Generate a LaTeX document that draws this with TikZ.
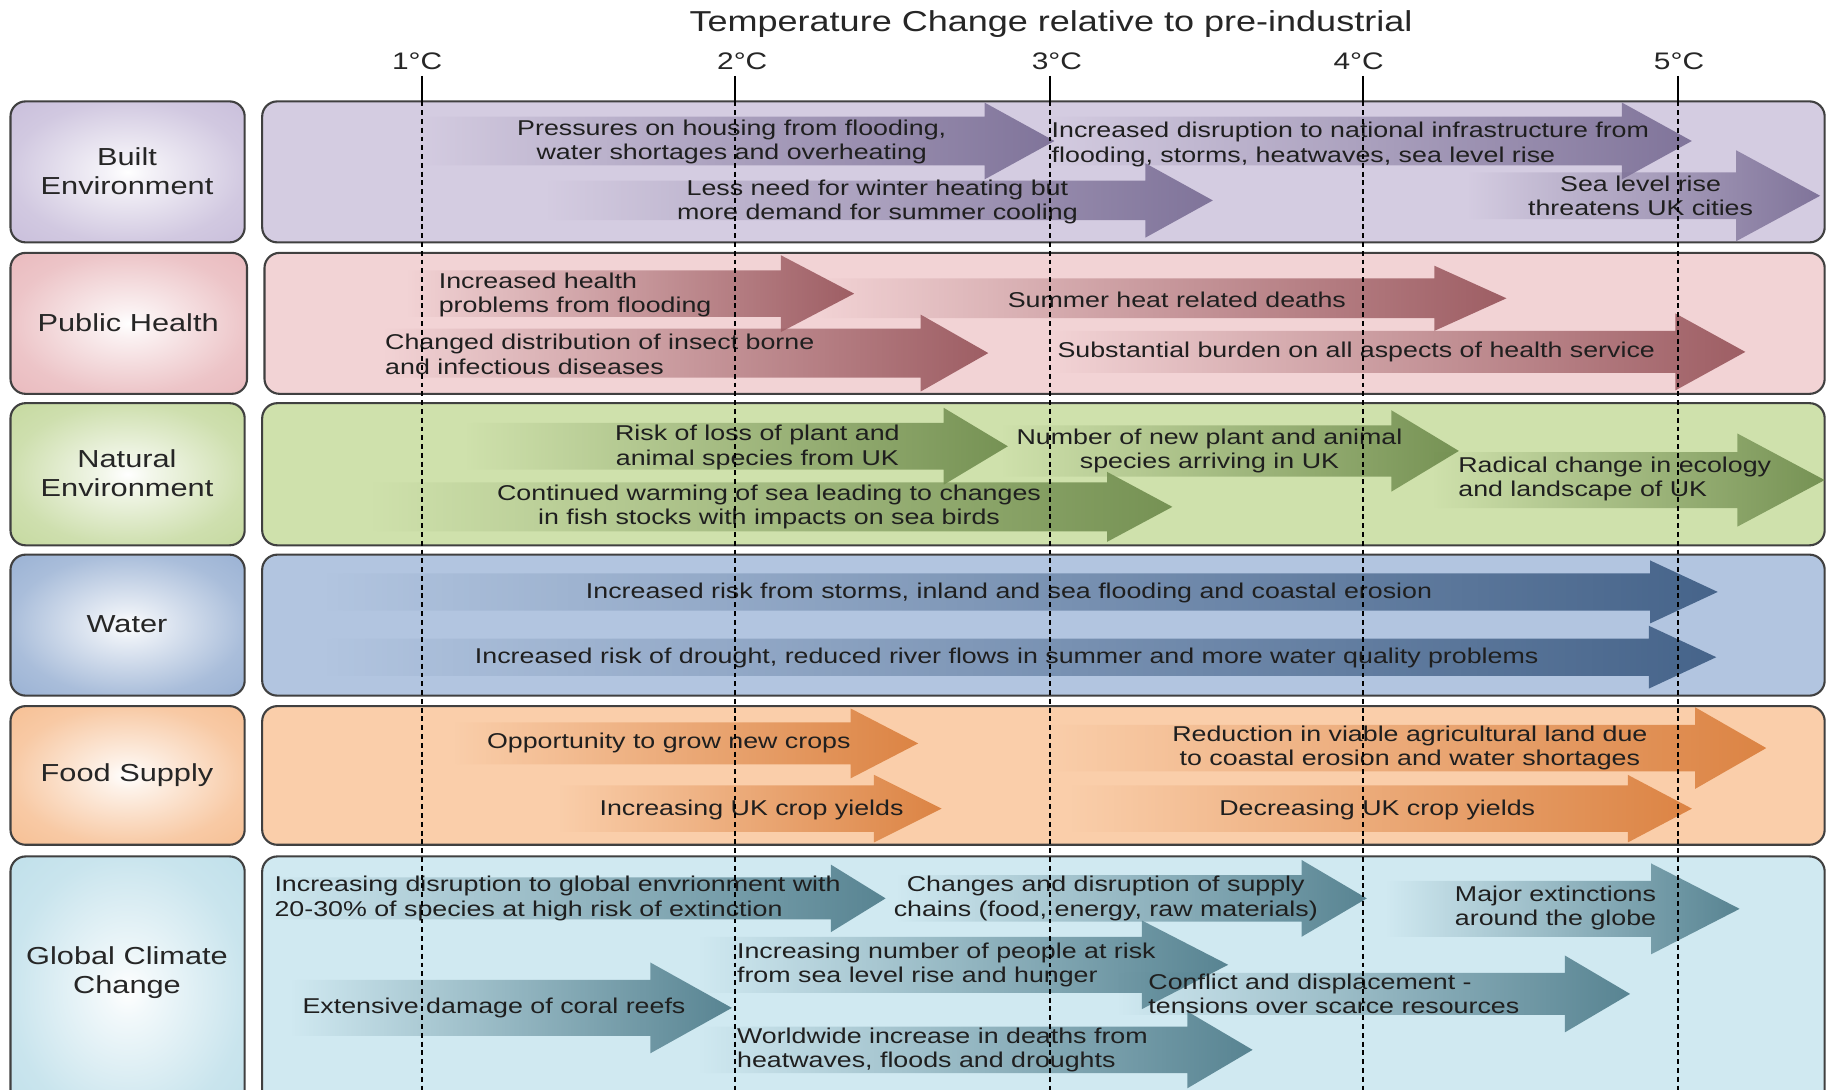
\documentclass[tikz,border=0pt]{standalone}
\usepackage{fontspec}
\setmainfont{Liberation Sans}[FakeStretch=1.25]
\usetikzlibrary{fadings}

% transparent on the left, opaque at the head
\tikzfading[name=fadein, left color=transparent!100, right color=transparent!0]

% soft white glow for the row labels
\colorlet{glowedge}{white}
\pgfdeclareradialshading[glowedge]{glow}{\pgfpoint{0bp}{0bp}}{color(0bp)=(white);
  color(5bp)=(glowedge!20!white); color(25bp)=(glowedge!80!white); color(40bp)=(glowedge); color(71bp)=(glowedge)}

% fat arrow: colour, x start, x head, x tip, y centre, body half height, head half height
\newcommand{\fatarrow}[7]{%
  \fill[#1, path fading=fadein] (#2,#5-#6) -- (#3,#5-#6) -- (#3,#5-#7) -- (#4,#5)
    -- (#3,#5+#7) -- (#3,#5+#6) -- (#2,#5+#6) -- cycle;}

\begin{document}
\begin{tikzpicture}[x=0.11652mm, y=-0.11652mm,
  rowbox/.style={draw=black!75, line width=0.6pt, rounded corners=4.3pt},
  labelbox/.style={rowbox, /utils/exec={\colorlet{glowedge}{#1}}, shade, shading=glow},
  rowlabel/.style={font=\fontsize{7}{8.2}\selectfont, align=center, text=black!85},
  impact/.style={font=\fontsize{6.1}{6.9}\selectfont, align=center, inner sep=0pt, text=black!88},
  degree/.style={font=\fontsize{6.8}{8}\selectfont, text=black!85},
  level/.style={dash pattern=on 1.4pt off 1.1pt, line width=0.5pt}]

% Colors
\definecolor{builtbg}{RGB}{212,204,225}
\definecolor{builtedge}{RGB}{198,187,217}
\definecolor{builtarr}{RGB}{128,116,154}
\definecolor{healthbg}{RGB}{242,211,213}
\definecolor{healthedge}{RGB}{232,182,186}
\definecolor{healtharr}{RGB}{158,94,100}
\definecolor{naturebg}{RGB}{207,225,172}
\definecolor{natureedge}{RGB}{194,215,154}
\definecolor{naturearr}{RGB}{118,146,84}
\definecolor{waterbg}{RGB}{178,197,224}
\definecolor{wateredge}{RGB}{148,173,209}
\definecolor{waterarr}{RGB}{70,100,138}
\definecolor{foodbg}{RGB}{250,206,170}
\definecolor{foodedge}{RGB}{246,188,142}
\definecolor{foodarr}{RGB}{220,132,68}
\definecolor{globalbg}{RGB}{208,233,241}
\definecolor{globaledge}{RGB}{188,222,233}
\definecolor{globalarr}{RGB}{88,132,146}

\clip (0,0) rectangle (1568,935);
\fill[white] (0,0) rectangle (1568,935);

% Title and temperature scale
\node[font=\fontsize{8.2}{9}\selectfont, text=black!85] (title) at (902,21) {Temperature Change relative to pre-industrial};
\node[degree] (deg1) at (358,53) {1°C};
\node[degree] (deg2) at (637,53) {2°C};
\node[degree] (deg3) at (907,53) {3°C};
\node[degree] (deg4) at (1166,53) {4°C};
\node[degree] (deg5) at (1441,53) {5°C};

% Row boxes
\draw[labelbox=builtedge] (9,87) rectangle (210,208);
\draw[rowbox, fill=builtbg] (225,87) rectangle (1566,208);
\draw[labelbox=healthedge] (9,217) rectangle (212,338);
\draw[rowbox, fill=healthbg] (227,217) rectangle (1566,338);
\draw[labelbox=natureedge] (9,346) rectangle (210,468);
\draw[rowbox, fill=naturebg] (225,346) rectangle (1566,468);
\draw[labelbox=wateredge] (9,476) rectangle (210,597);
\draw[rowbox, fill=waterbg] (225,476) rectangle (1566,597);
\draw[labelbox=foodedge] (9,606) rectangle (210,725);
\draw[rowbox, fill=foodbg] (225,606) rectangle (1566,725);
\draw[labelbox=globaledge] (9,735) rectangle (210,965);
\draw[rowbox, fill=globalbg] (225,735) rectangle (1566,965);

% Row labels
\node[rowlabel] (built) at (109,147) {Built\\Environment};
\node[rowlabel] (health) at (110,277) {Public Health};
\node[rowlabel] (nature) at (109,406) {Natural\\Environment};
\node[rowlabel] (water) at (109,536) {Water};
\node[rowlabel] (food) at (109,665) {Food Supply};
\node[rowlabel] (global) at (109,835) {Global Climate\\Change};

% Built environment arrows
\fatarrow{builtarr}{360}{845}{905}{121}{21}{33}
\fatarrow{builtarr}{470}{983}{1041}{172}{17}{32}
\fatarrow{builtarr}{900}{1392}{1452}{121}{21}{33}
\fatarrow{builtarr}{1260}{1490}{1562}{168}{20}{39}
\node[impact] (housing) at (628,122) {Pressures on housing from flooding,\\water shortages and overheating};
\node[impact] (heating) at (753,173) {Less need for winter heating but\\more demand for summer cooling};
\node[impact, anchor=west, align=left] (infra) at (902,124) {Increased disruption to national infrastructure from\\flooding, storms, heatwaves, sea level rise};
\node[impact] (cities) at (1408,168) {Sea level rise\\threatens UK cities};

% Public health arrows
\fatarrow{healtharr}{700}{1231}{1293}{256}{17}{28}
\fatarrow{healtharr}{350}{670}{733}{252}{20}{33}
\fatarrow{healtharr}{330}{790}{848}{303}{21}{33}
\fatarrow{healtharr}{905}{1438}{1498}{302}{18}{33}
\node[impact, anchor=west, align=left] (flood) at (376,253) {Increased health\\problems from flooding};
\node[impact] (deaths) at (1010,257) {Summer heat related deaths};
\node[impact, anchor=west, align=left] (insect) at (330,304) {Changed distribution of insect borne\\and infectious diseases};
\node[impact, anchor=west] (burden) at (907,302) {Substantial burden on all aspects of health service};

% Natural environment arrows
\fatarrow{naturearr}{400}{810}{865}{383}{20}{33}
\fatarrow{naturearr}{860}{1194}{1252}{387}{22}{35}
\fatarrow{naturearr}{320}{950}{1006}{435}{21}{30}
\fatarrow{naturearr}{1230}{1491}{1566}{412}{24}{40}
\node[impact] (loss) at (650,384) {Risk of loss of plant and\\animal species from UK};
\node[impact] (arriving) at (1038,387) {Number of new plant and animal\\species arriving in UK};
\node[impact] (sea) at (660,435) {Continued warming of sea leading to changes\\in fish stocks with impacts on sea birds};
\node[impact, anchor=west, align=left] (ecology) at (1251,411) {Radical change in ecology\\and landscape of UK};

% Water arrows
\fatarrow{waterarr}{280}{1417}{1475}{508}{16}{27}
\fatarrow{waterarr}{280}{1416}{1474}{564}{16}{27}
\node[impact] (storms) at (866,509) {Increased risk from storms, inland and sea flooding and coastal erosion};
\node[impact] (drought) at (864,565) {Increased risk of drought, reduced river flows in summer and more water quality problems};

% Food supply arrows
\fatarrow{foodarr}{390}{730}{788}{638}{18}{30}
\fatarrow{foodarr}{480}{750}{808}{694}{20}{29}
\fatarrow{foodarr}{900}{1455}{1516}{642}{20}{35}
\fatarrow{foodarr}{920}{1397}{1452}{694}{20}{29}
\node[impact] (crops) at (574,638) {Opportunity to grow new crops};
\node[impact] (yieldsup) at (645,695) {Increasing UK crop yields};
\node[impact] (land) at (1210,642) {Reduction in viable agricultural land due\\to coastal erosion and water shortages};
\node[impact] (yieldsdown) at (1182,695) {Decreasing UK crop yields};

% Global climate change arrows
\fatarrow{globalarr}{228}{713}{760}{771}{18}{29}
\fatarrow{globalarr}{770}{1117}{1173}{771}{20}{33}
\fatarrow{globalarr}{1190}{1417}{1493}{780}{24}{39}
\fatarrow{globalarr}{600}{980}{1054}{828}{24}{38}
\fatarrow{globalarr}{960}{1343}{1399}{853}{18}{33}
\fatarrow{globalarr}{250}{558}{628}{865}{24}{39}
\fatarrow{globalarr}{600}{1019}{1075}{901}{20}{33}
\node[impact, anchor=west, align=left] (extinction) at (235,771) {Increasing disruption to global envrionment with\\20-30\% of species at high risk of extinction};
\node[impact] (supply) at (949,771) {Changes and disruption of supply\\chains (food, energy, raw materials)};
\node[impact] (major) at (1335,779) {Major extinctions\\around the globe};
\node[impact, anchor=west, align=left] (hunger) at (632,828) {Increasing number of people at risk\\from sea level rise and hunger};
\node[impact, anchor=west, align=left] (conflict) at (985,853) {Conflict and displacement -\\tensions over scarce resources};
\node[impact] (coral) at (424,865) {Extensive damage of coral reefs};
\node[impact, anchor=west, align=left] (worldwide) at (632,901) {Worldwide increase in deaths from\\heatwaves, floods and droughts};

% Temperature levels
\draw[line width=0.5pt] (362,65) -- (362,87);
\draw[line width=0.5pt] (631,65) -- (631,87);
\draw[line width=0.5pt] (901,65) -- (901,87);
\draw[line width=0.5pt] (1170,65) -- (1170,87);
\draw[line width=0.5pt] (1440,65) -- (1440,87);
\draw[level] (362,87) -- (362,940);
\draw[level] (631,87) -- (631,940);
\draw[level] (901,87) -- (901,940);
\draw[level] (1170,87) -- (1170,940);
\draw[level] (1440,87) -- (1440,940);

\end{tikzpicture}
\end{document}
